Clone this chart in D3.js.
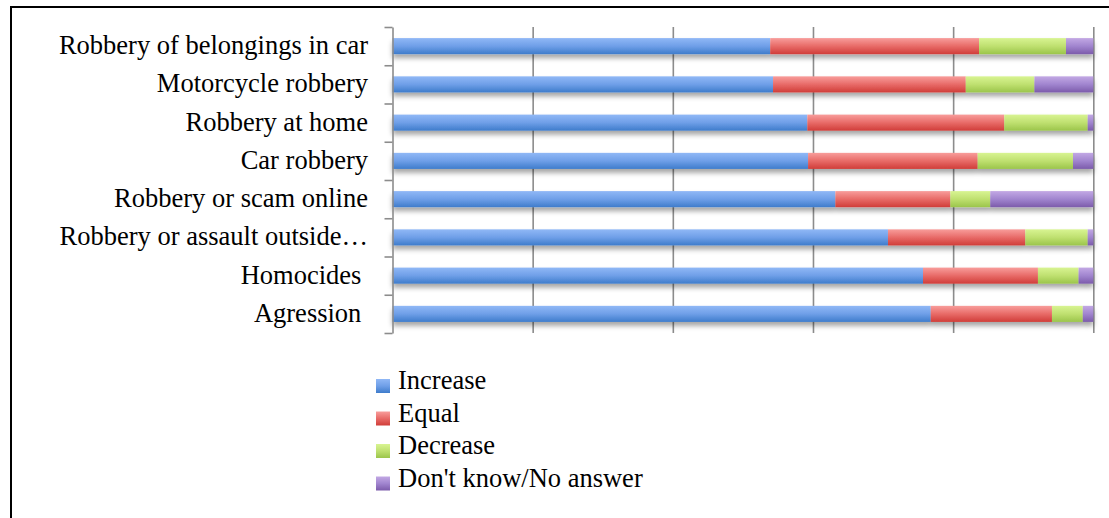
<!DOCTYPE html>
<html><head><meta charset="utf-8">
<script src="https://cdn.jsdelivr.net/npm/d3@7"></script>
<style>html,body{margin:0;padding:0;background:#fff;}svg{display:block;}
text{font-family:"Liberation Serif","Times New Roman","DejaVu Serif",serif;}</style>
</head><body>
<script>
const categories = ["Robbery of belongings in car","Motorcycle robbery","Robbery at home","Car robbery","Robbery or scam online","Robbery or assault outside…","Homocides ","Agression "];
const seriesNames = ["Increase","Equal","Decrease","Don't know/No answer"];
const increase = [53.9, 54.3, 59.2, 59.3, 63.2, 70.7, 75.7, 76.8];
const equal    = [29.8, 27.5, 28.1, 24.2, 16.4, 19.6, 16.4, 17.3];
const decrease = [12.4,  9.8, 11.9, 13.6,  5.7,  8.9,  5.8,  4.4];
const dontKnow = [ 3.9,  8.4,  0.8,  2.9, 14.7,  0.8,  2.1,  1.5];
const gridTicks = [20, 40, 60, 80, 100];

const W = 1109, H = 518;
const colors = [
  ["#90b8f6","#6f9fe8","#3e7ccb"],
  ["#f89d9b","#e86b68","#d03d39"],
  ["#d8f492","#bfe070","#9bc54b"],
  ["#c2a8e4","#a185cf","#7c5bab"]
];
const svg = d3.select("body").append("svg").attr("width", W).attr("height", H);
const defs = svg.append("defs");
colors.forEach((c,i)=>{
  const g = defs.append("linearGradient").attr("id","g"+i).attr("x1",0).attr("y1",0).attr("x2",0).attr("y2",1);
  g.append("stop").attr("offset","0%").attr("stop-color",c[0]);
  g.append("stop").attr("offset","50%").attr("stop-color",c[1]);
  g.append("stop").attr("offset","100%").attr("stop-color",c[2]);
});
const f = defs.append("filter").attr("id","sh").attr("x","-5%").attr("y","-50%").attr("width","110%").attr("height","250%");
f.append("feDropShadow").attr("dx",0).attr("dy",4).attr("stdDeviation",2.5).attr("flood-color","#000").attr("flood-opacity",0.35);

// frame
svg.append("rect").attr("x",11).attr("y",7).attr("width",W+20).attr("height",H+20)
  .attr("fill","none").attr("stroke","#000").attr("stroke-width",2);

const x = d3.scaleLinear().domain([0,100]).range([392.5,1093.3]);
const y = d3.scaleBand().domain(categories).range([27,333]).paddingInner(0.58).paddingOuter(0.29);
const yb = d3.scaleLinear().domain([0,categories.length]).range([27,333]);

// gridlines
const grid = svg.append("g").attr("transform","translate(0,333)")
  .call(d3.axisBottom(x).tickValues(gridTicks).tickSize(-306).tickFormat(""));
grid.select(".domain").remove();
grid.selectAll("line").attr("stroke","#8c8c8c").attr("stroke-width",1.6);

// bars
const rows = categories.map((c,i)=>({cat:c, vals:[increase[i],equal[i],decrease[i],dontKnow[i]]}));
const stackData = [];
rows.forEach(r=>{ let acc=0; r.vals.forEach((v,k)=>{ stackData.push({cat:r.cat,k,x0:acc,x1:acc+v}); acc+=v; }); });
const barG = svg.append("g");
rows.forEach(r=>{
  const gg = barG.append("g").attr("filter","url(#sh)");
  gg.selectAll("rect").data(stackData.filter(d=>d.cat===r.cat)).join("rect")
    .attr("x",d=>x(d.x0)).attr("width",d=>x(d.x1)-x(d.x0))
    .attr("y",d=>y(d.cat)).attr("height",y.bandwidth())
    .attr("fill",d=>"url(#g"+d.k+")");
});

// y axis
const ya = svg.append("g").attr("transform","translate(392.5,0)")
  .call(d3.axisLeft(yb).tickValues(d3.range(categories.length+1)).tickSize(8).tickSizeOuter(0).tickFormat(""));
ya.selectAll("line,path").attr("stroke","#8c8c8c").attr("stroke-width",1.6);

// labels
svg.append("g").selectAll("text").data(categories).join("text")
  .attr("x",368).attr("y",d=>y(d)+y.bandwidth()/2+8)
  .attr("text-anchor","end")
  .attr("font-size",26.5).attr("fill","#000").style("white-space","pre").text(d=>d);

// legend
const lg = svg.append("g");
seriesNames.forEach((s,i)=>{
  const by = 389 + i*32.5;
  lg.append("rect").attr("x",376).attr("y",by-10).attr("width",14).attr("height",14).attr("fill","url(#g"+i+")");
  lg.append("text").attr("x",398).attr("y",by)
    .attr("font-size",26.5).attr("fill","#000").text(s);
});
</script>
</body></html>
